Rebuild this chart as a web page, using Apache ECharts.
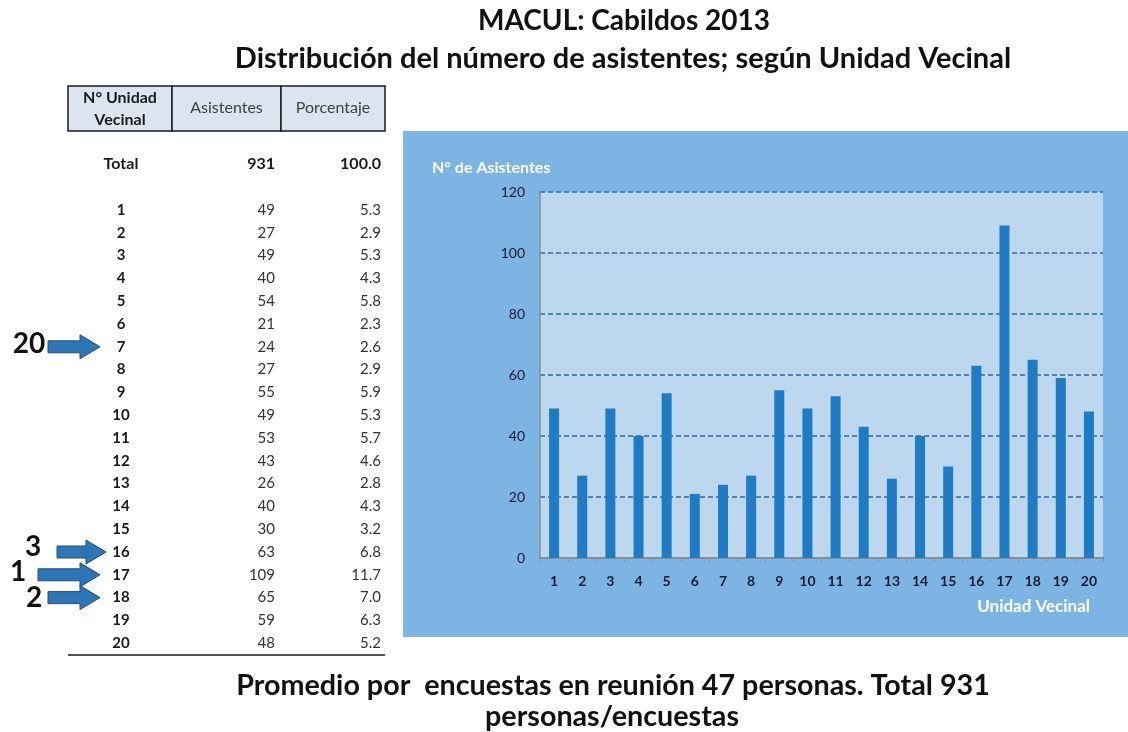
<!DOCTYPE html>
<html>
<head>
<meta charset="utf-8">
<script src="https://cdn.jsdelivr.net/npm/echarts@6/dist/echarts.min.js"></script>
<style>
  html, body { margin: 0; padding: 0; background: #ffffff; }
  #chart { width: 1128px; height: 732px; }
</style>
</head>
<body>
<div id="chart"></div>
<script>
// Unidades vecinales de Macul y asistentes a los cabildos 2013
const unidades = ['1','2','3','4','5','6','7','8','9','10','11','12','13','14','15','16','17','18','19','20'];
const asistentes = [49, 27, 49, 40, 54, 21, 24, 27, 55, 49, 53, 43, 26, 40, 30, 63, 109, 65, 59, 48];
const porcentajes = ['5.3','2.9','5.3','4.3','5.8','2.3','2.6','2.9','5.9','5.3','5.7','4.6','2.8','4.3','3.2','6.8','11.7','7.0','6.3','5.2'];
const total = 931;
const totalPct = '100.0';
const yTicks = [0, 20, 40, 60, 80, 100, 120];

// Ranking marks (position in the ranking -> unidad vecinal)
const rankLabels = ['20', '3', '1', '2'];
const rankUnidades = ['7', '16', '17', '18'];

const titulo1 = 'MACUL: Cabildos 2013';
const titulo2 = 'Distribución del número de asistentes; según Unidad Vecinal';
const nota1 = 'Promedio por  encuestas en reunión 47 personas. Total 931';
const nota2 = 'personas/encuestas';

const FONT = 'Lato, "Open Sans", sans-serif';
const chart = echarts.init(document.getElementById('chart'), null, { renderer: 'canvas' });

// ---- table layout ----
const tbl = { x0: 68, c1: 172, c2: 281, x1: 385, top: 86, hdrBottom: 131 };
const rowY = i => 210 + i * 22.8;
const g = [];

// header cells
[[tbl.x0, tbl.c1], [tbl.c1, tbl.c2], [tbl.c2, tbl.x1]].forEach(([a, b]) => {
  g.push({ type: 'rect', shape: { x: a, y: tbl.top, width: b - a, height: tbl.hdrBottom - tbl.top },
    style: { fill: '#dbe5f1', stroke: '#1b1b1b', lineWidth: 1.5 } });
});
g.push({ type: 'text', x: 120, y: 108.5, style: { text: 'N° Unidad\nVecinal', fill: '#1a1a1a', font: 'bold 16px ' + FONT,
  textAlign: 'center', textVerticalAlign: 'middle', lineHeight: 22 } });
g.push({ type: 'text', x: 226.5, y: 108, style: { text: 'Asistentes', fill: '#404040', font: '16px ' + FONT,
  textAlign: 'center', textVerticalAlign: 'middle' } });
g.push({ type: 'text', x: 333, y: 108, style: { text: 'Porcentaje', fill: '#404040', font: '16px ' + FONT,
  textAlign: 'center', textVerticalAlign: 'middle' } });

// total row
g.push({ type: 'text', x: 121, y: 164, style: { text: 'Total', fill: '#1a1a1a', font: 'bold 16px ' + FONT, textAlign: 'center', textVerticalAlign: 'middle' } });
g.push({ type: 'text', x: 275, y: 164, style: { text: String(total), fill: '#1a1a1a', font: 'bold 16px ' + FONT, textAlign: 'right', textVerticalAlign: 'middle' } });
g.push({ type: 'text', x: 381, y: 164, style: { text: totalPct, fill: '#1a1a1a', font: 'bold 16px ' + FONT, textAlign: 'right', textVerticalAlign: 'middle' } });

// data rows
unidades.forEach((u, i) => {
  const y = rowY(i);
  g.push({ type: 'text', x: 121, y, style: { text: u, fill: '#1a1a1a', font: 'bold 15px ' + FONT, textAlign: 'center', textVerticalAlign: 'middle' } });
  g.push({ type: 'text', x: 275, y, style: { text: String(asistentes[i]), fill: '#333333', font: '15px ' + FONT, textAlign: 'right', textVerticalAlign: 'middle' } });
  g.push({ type: 'text', x: 381, y, style: { text: porcentajes[i], fill: '#333333', font: '15px ' + FONT, textAlign: 'right', textVerticalAlign: 'middle' } });
});
g.push({ type: 'line', shape: { x1: tbl.x0, y1: 655, x2: tbl.x1, y2: 655 }, style: { stroke: '#1b1b1b', lineWidth: 1.5 } });

// ranking arrows
const arrowGeom = [
  { x0: 48, x1: 100, lx: 29, dy: -3 },
  { x0: 57, x1: 106, lx: 33, dy: -5 },
  { x0: 38, x1: 100, lx: 18, dy: -3 },
  { x0: 48, x1: 100, lx: 34, dy: 0 }
];
rankLabels.forEach((lab, k) => {
  const a = arrowGeom[k];
  const yc = rowY(unidades.indexOf(rankUnidades[k]));
  const hx = a.x1 - 20;
  g.push({ type: 'polygon', shape: { points: [
      [a.x0, yc - 6], [hx, yc - 6], [hx, yc - 12], [a.x1, yc], [hx, yc + 12], [hx, yc + 6], [a.x0, yc + 6]
    ] }, style: { fill: '#2e75b6', stroke: '#1f4e79', lineWidth: 1 } });
  g.push({ type: 'text', x: a.lx, y: yc + a.dy, style: { text: lab, fill: '#111111', font: 'bold 28px ' + FONT,
    textAlign: 'center', textVerticalAlign: 'middle' } });
});

// chart panel
g.push({ type: 'rect', z: -10, shape: { x: 403, y: 131, width: 725, height: 506 }, style: { fill: '#7cb5e3' } });
g.push({ type: 'text', x: 432, y: 168, style: { text: 'N° de Asistentes', fill: '#ffffff', font: 'bold 16px ' + FONT, textVerticalAlign: 'middle' } });
g.push({ type: 'text', x: 1090, y: 607, style: { text: 'Unidad Vecinal', fill: '#ffffff', font: 'bold 17px ' + FONT, textAlign: 'right', textVerticalAlign: 'middle' } });

// titles and note
g.push({ type: 'text', x: 624, y: 21, style: { text: titulo1, fill: '#111111', font: 'bold 28px ' + FONT, textAlign: 'center', textVerticalAlign: 'middle' } });
g.push({ type: 'text', x: 623, y: 59, style: { text: titulo2, fill: '#111111', font: 'bold 29px ' + FONT, textAlign: 'center', textVerticalAlign: 'middle' } });
g.push({ type: 'text', x: 613, y: 686, style: { text: nota1, fill: '#111111', font: 'bold 28.7px ' + FONT, textAlign: 'center', textVerticalAlign: 'middle' } });
g.push({ type: 'text', x: 612, y: 717, style: { text: nota2, fill: '#111111', font: 'bold 28.7px ' + FONT, textAlign: 'center', textVerticalAlign: 'middle' } });

chart.setOption({
  animation: false,
  backgroundColor: '#ffffff',
  textStyle: { fontFamily: FONT },
  grid: { left: 540, right: 25, top: 192, bottom: 174, show: true, backgroundColor: '#bdd7ee', borderWidth: 0, containLabel: false },
  xAxis: {
    type: 'category',
    data: unidades,
    boundaryGap: true,
    axisLine: { show: true, lineStyle: { color: '#8c8c8c', width: 2 } },
    axisTick: { show: true, alignWithLabel: false, length: 4, lineStyle: { color: '#8c8c8c' } },
    axisLabel: { color: '#1a1a2e', fontWeight: 'bold', fontSize: 14, margin: 16, fontFamily: FONT },
    splitLine: { show: false }
  },
  yAxis: {
    type: 'value',
    min: yTicks[0],
    max: yTicks[yTicks.length - 1],
    interval: yTicks[1] - yTicks[0],
    axisLine: { show: true, lineStyle: { color: '#8c8c8c', width: 1.5 } },
    axisTick: { show: false },
    axisLabel: { color: '#1a1a2e', fontSize: 14, margin: 15, fontFamily: FONT },
    splitLine: { show: true, lineStyle: { color: '#2e68a6', type: [5, 3], width: 1.5 } }
  },
  series: [{
    type: 'bar',
    data: asistentes,
    barWidth: 10,
    itemStyle: { color: '#1f7cc4' }
  }],
  graphic: { elements: g }
});
</script>
</body>
</html>
